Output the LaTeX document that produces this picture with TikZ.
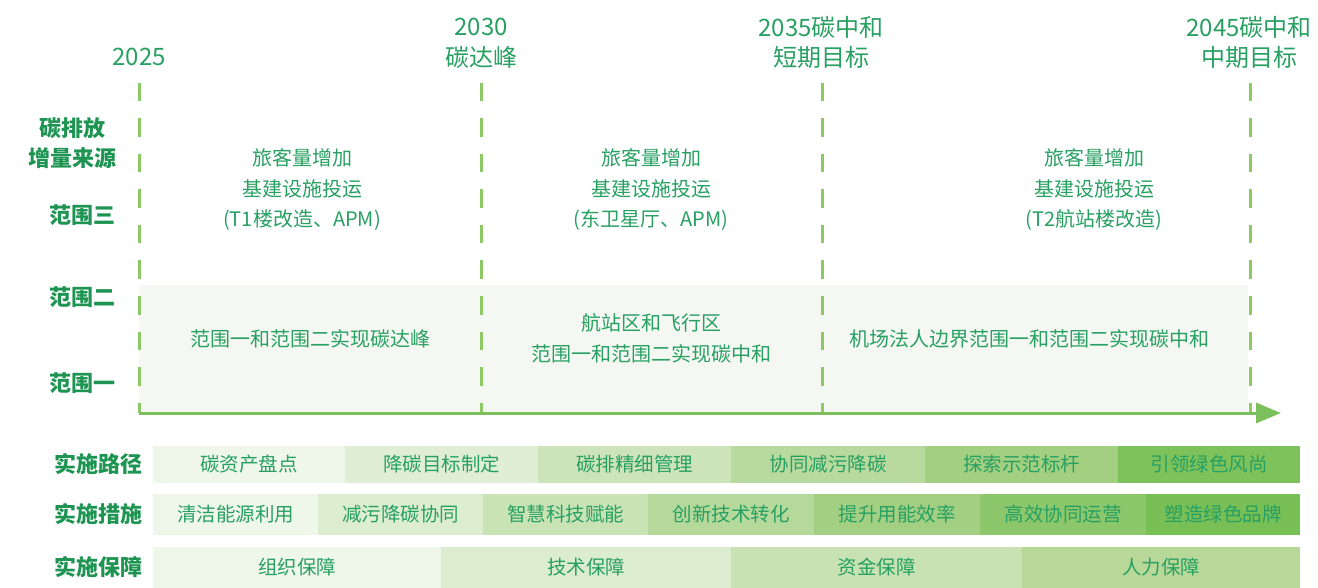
\documentclass[tikz,border=0pt]{standalone}
\usepackage{fontspec}
\setmainfont{Noto Sans CJK SC}
\usetikzlibrary{arrows.meta}
\definecolor{txt}{HTML}{27A062}
\definecolor{lab}{HTML}{1E9452}
\definecolor{dashc}{HTML}{8DC866}
\definecolor{axisc}{HTML}{7CC05E}
\definecolor{boxc}{HTML}{F5F8F2}
\definecolor{ga}{HTML}{EFF6EA}
\definecolor{gb}{HTML}{E0EED6}
\definecolor{gc}{HTML}{CDE4BB}
\definecolor{gd}{HTML}{B9DA9F}
\definecolor{ge}{HTML}{A3CF81}
\definecolor{gf}{HTML}{7EC25B}
\definecolor{hb}{HTML}{DDEDCF}
\definecolor{hc}{HTML}{C9E3B5}
\definecolor{hd}{HTML}{B5D99B}
\definecolor{he}{HTML}{A2CF82}
\definecolor{hf}{HTML}{8CC76B}
\definecolor{hg}{HTML}{78BF56}
\definecolor{kb}{HTML}{DCECCE}
\definecolor{kc}{HTML}{C9E2B3}
\definecolor{kd}{HTML}{B8D899}
\tikzset{
  toplab/.style={text=txt, font=\fontsize{24}{28}\selectfont, inner sep=0pt},
  sidelab/.style={text=lab, font=\fontsize{22}{26}\selectfont\bfseries, inner sep=0pt},
  body/.style={text=txt, font=\fontsize{20}{24}\selectfont, inner sep=0pt},
  barlab/.style={text=lab, font=\fontsize{22}{26}\selectfont\bfseries, inner sep=0pt},
  bar/.style={anchor=west, inner sep=0pt, text=txt, font=\fontsize{19.5}{24}\selectfont},
  dl/.style={draw=dashc, line width=3pt, dash pattern=on 18.5pt off 17pt},
  axisline/.style={draw=axisc, line width=3pt, -{Triangle[length=25pt,width=20pt]}},
}
\begin{document}
\begin{tikzpicture}[x=1pt,y=-1pt]
\useasboundingbox (0,0) rectangle (1318,588);
% scope 1/2 box
\node[fill=boxc, minimum width=1109pt, minimum height=128pt, inner sep=0pt, anchor=north west] (sbox) at (139,285) {};
% dashed time lines
\foreach \n/\x in {a/139,b/481,c/822,d/1250}{
  \coordinate (v\n t) at (\x,83);
  \coordinate (v\n b) at (\x,413);
  \draw[dl] (v\n t) -- (v\n b);
}
% axis
\coordinate (ax0) at (139,413);
\coordinate (ax1) at (1281,413);
\draw[axisline] (ax0) -- (ax1);
% top labels
\node[toplab] (y25) at (139,57) {2025};
\node[toplab] (y30) at (481,27) {2030};
\node[toplab] (y30b) at (481,57) {碳达峰};
\node[toplab] (y35) at (821,27) {2035碳中和};
\node[toplab] (y35b) at (821,57) {短期目标};
\node[toplab] (y45) at (1249,27) {2045碳中和};
\node[toplab] (y45b) at (1249,57) {中期目标};
% side labels
\node[sidelab] (s0a) at (72,128) {碳排放};
\node[sidelab] (s0b) at (72,158) {增量来源};
\node[sidelab, anchor=east] (s3) at (116,215) {范围三};
\node[sidelab, anchor=east] (s2) at (116,297) {范围二};
\node[sidelab, anchor=east] (s1) at (116,383) {范围一};
% scope 3 texts
\foreach \n/\x/\c in {a/302/(T1楼改造、APM),b/651/(东卫星厅、APM),c/1094/(T2航站楼改造)}{
  \node[body] (p\n1) at (\x,158) {旅客量增加};
  \node[body] (p\n2) at (\x,189) {基建设施投运};
  \node[body] (p\n3) at (\x,220) {\c};
}
% scope 1/2 texts
\node[body] (q1) at (310,339) {范围一和范围二实现碳达峰};
\node[body] (q2a) at (651,323) {航站区和飞行区};
\node[body] (q2b) at (651,354) {范围一和范围二实现碳中和};
\node[body] (q3) at (1029,339) {机场法人边界范围一和范围二实现碳中和};
% bottom rows
\node[barlab] (r1) at (98,464) {实施路径};
\node[barlab] (r2) at (98,514) {实施措施};
\node[barlab] (r3) at (98,567) {实施保障};
\foreach \i/\a/\b/\c/\t in {1/153/345/ga/碳资产盘点,2/345/538/gb/降碳目标制定,3/538/731/gc/碳排精细管理,4/731/925/gd/协同减污降碳,5/925/1118/ge/探索示范标杆,6/1118/1300/gf/引领绿色风尚}{
  \pgfmathsetmacro\w{\b-\a}
  \node[bar, fill=\c, minimum width=\w pt, minimum height=37pt] (ra\i) at (\a,464.5) {\t};
}
\foreach \i/\a/\b/\c/\t in {1/153/318/ga/清洁能源利用,2/318/483/hb/减污降碳协同,3/483/648/hc/智慧科技赋能,4/648/814/hd/创新技术转化,5/814/980/he/提升用能效率,6/980/1146/hf/高效协同运营,7/1146/1300/hg/塑造绿色品牌}{
  \pgfmathsetmacro\w{\b-\a}
  \node[bar, fill=\c, minimum width=\w pt, minimum height=41pt] (rb\i) at (\a,514.5) {\t};
}
\foreach \i/\a/\b/\c/\t in {1/153/441/ga/组织保障,2/441/731/kb/技术保障,3/731/1022/kc/资金保障,4/1022/1300/kd/人力保障}{
  \pgfmathsetmacro\w{\b-\a}
  \node[bar, fill=\c, minimum width=\w pt, minimum height=41pt] (rc\i) at (\a,567.5) {\t};
}
\end{tikzpicture}
\end{document}
